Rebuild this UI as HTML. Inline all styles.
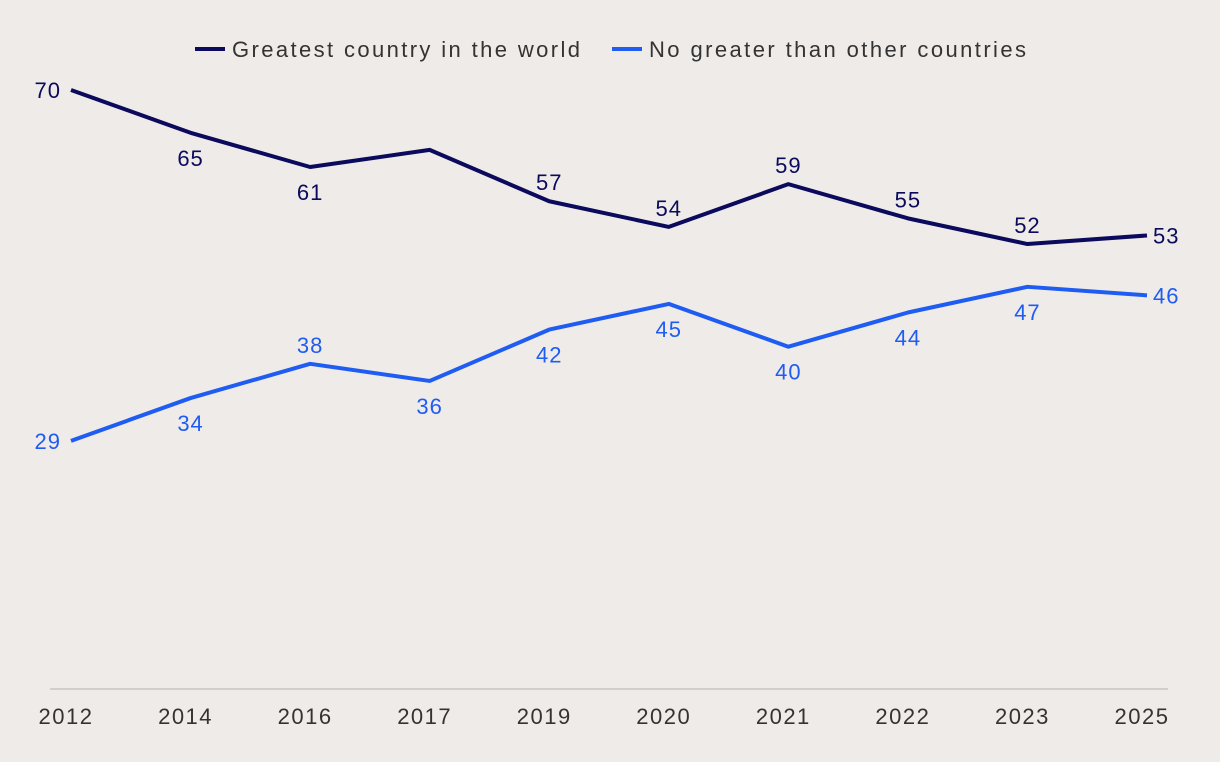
<!DOCTYPE html>
<html><head><meta charset="utf-8"><style>
html,body{margin:0;padding:0;background:#efebe8;}
svg{display:block;font-family:"Liberation Sans",sans-serif;}
</style></head><body>
<svg id="chart" width="1220" height="762">
<rect width="1220" height="762" fill="#efebe8"/>
<g>
<g>
<line x1="195" y1="49" x2="225" y2="49" stroke="#0b0a5c" stroke-width="4"/>
<text x="232" y="57" font-size="22" fill="#333" textLength="348" lengthAdjust="spacing">Greatest country in the world</text></g>
<g>
<line x1="612" y1="49" x2="642" y2="49" stroke="#1f5cf2" stroke-width="4"/>
<text x="649" y="57" font-size="22" fill="#333" textLength="377" lengthAdjust="spacing">No greater than other countries</text></g>
</g>
<line x1="50" y1="689" x2="1168" y2="689" stroke="#c8c4c0" stroke-width="1.5"/>
<g id="ticks"></g>
<g id="series"></g>
</svg>
<script>
const categories=["2012","2014","2016","2017","2019","2020","2021","2022","2023","2025"];
const greatest=[70,65,61,63,57,54,59,55,52,53];
const noGreater=[29,34,38,36,42,45,40,44,47,46];
const greatestPos=["left","below","below","none","above","above","above","above","above","right"];
const noGreaterPos=["left","below","above","below","below","below","below","below","below","right"];
const NS="http://www.w3.org/2000/svg";
function x(i){return 71+i*(1147-71)/(categories.length-1);}
function y(v){return 689-v*(689-90)/70;}
const ticks=document.getElementById('ticks');
categories.forEach((c,i)=>{
  const t=document.createElementNS(NS,'text');
  t.setAttribute('x',x(i)-5);t.setAttribute('y',724);t.setAttribute('text-anchor','middle');
  t.setAttribute('font-size','22');t.setAttribute('fill','#333');t.setAttribute('letter-spacing','1.5');t.textContent=c;
  
  
  ticks.appendChild(t);
});
const g=document.getElementById('series');
function draw(vals,pos,color,name){
  const p=document.createElementNS(NS,'polyline');
  p.setAttribute('points',vals.map((v,i)=>x(i)+','+y(v)).join(' '));
  p.setAttribute('fill','none');p.setAttribute('stroke',color);p.setAttribute('stroke-width','4');
  p.setAttribute('stroke-linejoin','round');
  
  
  g.appendChild(p);
  vals.forEach((v,i)=>{
    if(pos[i]==='none')return;
    const t=document.createElementNS(NS,'text');
    let tx=x(i),ty=y(v)+8,anchor='middle';
    if(pos[i]==='left'){tx=x(i)-10;anchor='end';}
    else if(pos[i]==='right'){tx=x(i)+6;anchor='start';}
    else if(pos[i]==='below'){ty=y(v)+33;}
    else if(pos[i]==='above'){ty=y(v)-11;}
    t.setAttribute('x',tx);t.setAttribute('y',ty);t.setAttribute('text-anchor',anchor);
    t.setAttribute('font-size','22');t.setAttribute('fill',color);t.setAttribute('letter-spacing','1');t.textContent=v;
    
    
    g.appendChild(t);
  });
}
draw(greatest,greatestPos,'#0b0a5c','greatest');
draw(noGreater,noGreaterPos,'#1f5cf2','no-greater');
</script>
</body></html>
